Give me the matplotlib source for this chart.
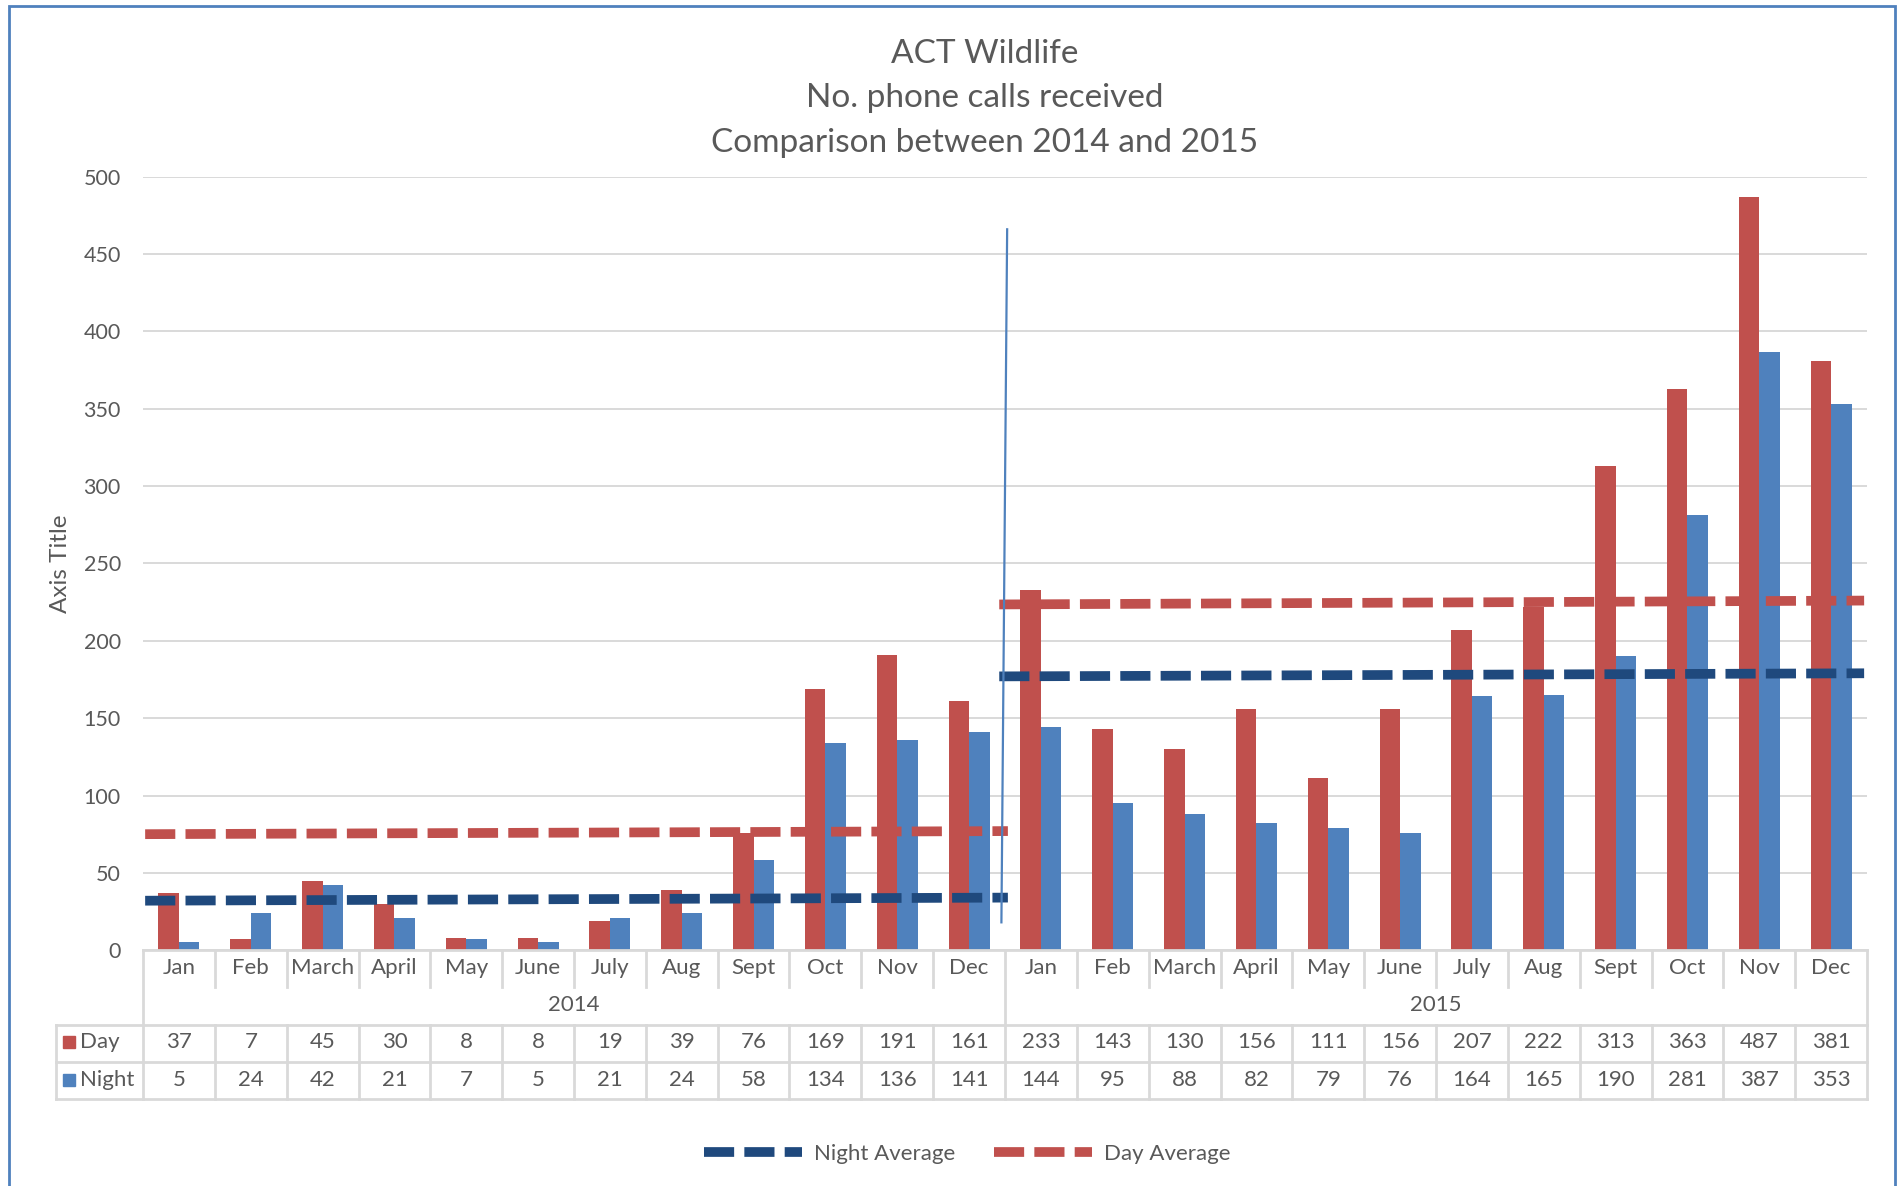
import numpy as np
import matplotlib
matplotlib.use("Agg")
import matplotlib.pyplot as plt
import matplotlib.transforms as mtransforms
from matplotlib.lines import Line2D
from matplotlib.patches import Rectangle

plt.rcParams['font.family'] = ['Lato', 'DejaVu Sans']

# data
months = ["Jan", "Feb", "March", "April", "May", "June",
          "July", "Aug", "Sept", "Oct", "Nov", "Dec"]
years = ["2014", "2015"]
day_calls = [37, 7, 45, 30, 8, 8, 19, 39, 76, 169, 191, 161,
             233, 143, 130, 156, 111, 156, 207, 222, 313, 363, 487, 381]
night_calls = [5, 24, 42, 21, 7, 5, 21, 24, 58, 134, 136, 141,
               144, 95, 88, 82, 79, 76, 164, 165, 190, 281, 387, 353]

# average segments per year (start, end) in category units / values
avg_x = [[-0.47, 11.54], [11.42, 23.46]]
day_avg = [[75, 77], [223.5, 226]]
night_avg = [[32, 34], [177, 179]]

# the hand drawn divider
divider_x = [11.53, 11.45]
divider_y = [466, 18]

DAY = '#C0504D'
NIGHT = '#4F81BD'
NAVY = '#1F497D'
GRID = '#D9D9D9'
TEXT = '#595959'

W, H = 1898, 1186
fig = plt.figure(figsize=(W / 100, H / 100), dpi=100)
ax = fig.add_axes([143 / W, 1 - 950.2 / H, 1724 / W, 773.5 / H])

labels = months * 2
x = np.arange(len(labels))
bw = 0.2857
ax.bar(x - bw / 2, day_calls, bw, color=DAY, zorder=2)
ax.bar(x + bw / 2, night_calls, bw, color=NIGHT, zorder=2)

LW = 7
dash = (3.1, 1.05)
for xs, dy, ny in zip(avg_x, day_avg, night_avg):
    ax.plot(xs, dy, color=DAY, lw=LW, dashes=dash, zorder=3)
    ax.plot(xs, ny, color=NAVY, lw=LW, dashes=dash, zorder=3)

ax.plot(divider_x, divider_y, color=NIGHT, lw=1.6, zorder=4)

ax.set_xlim(-0.5, 23.5)
ax.set_ylim(0, 500)
ax.set_yticks(range(0, 501, 50))
ax.set_xticks([])
ax.grid(axis='y', color=GRID, lw=1.4, zorder=0)
ax.set_axisbelow(True)
for s in ['top', 'right', 'left']:
    ax.spines[s].set_visible(False)
ax.spines['bottom'].set_color(GRID)
ax.spines['bottom'].set_linewidth(2)
ax.tick_params(axis='y', length=0, pad=16, labelsize=15.5, labelcolor=TEXT)

ax.text(-0.0479, 0.5, "Axis Title", transform=ax.transAxes, rotation=90,
        ha='center', va='center', fontsize=17.5, color=TEXT)

# data table under the axis
trans = mtransforms.blended_transform_factory(ax.transData, ax.transAxes)
y_month, y_msep, y_year = -0.023, -0.0476, -0.0708
y_row1, y_day, y_row2, y_night, y_bot = -0.0961, -0.1187, -0.1446, -0.1678, -0.1924
x_left = -1.715
lk = dict(transform=trans, clip_on=False, color=GRID, lw=2)

bounds = np.arange(len(labels) + 1) - 0.5
for i, b in enumerate(bounds):
    top_end = y_row1 if i % 12 == 0 else y_msep
    ax.plot([b, b], [0, top_end], **lk)
    ax.plot([b, b], [y_row1, y_bot], **lk)
ax.plot([x_left, x_left], [y_row1, y_bot], **lk)
for yy in (y_row1, y_row2, y_bot):
    ax.plot([x_left, bounds[-1]], [yy, yy], **lk)

tk = dict(transform=trans, ha='center', va='center', fontsize=16, color=TEXT)
for i, m in enumerate(labels):
    ax.text(i, y_month, m, **tk)
    ax.text(i, y_day, str(day_calls[i]), **tk)
    ax.text(i, y_night, str(night_calls[i]), **tk)
for k, yr in enumerate(years):
    ax.text(5.5 + 12 * k, y_year, yr, **tk)

for yy, name, col in ((y_day, "Day", DAY), (y_night, "Night", NIGHT)):
    ax.plot([-1.53], [yy], marker='s', ms=9, color=col, transform=trans, clip_on=False)
    ax.text(-1.38, yy, name, transform=trans, ha='left', va='center',
            fontsize=16, color=TEXT)

fig.text(0.519, 0.917, "ACT Wildlife\nNo. phone calls received\nComparison between 2014 and 2015",
         ha='center', va='center', fontsize=24, color=TEXT, linespacing=1.6)

handles = [Line2D([], [], color=NAVY, lw=LW, dashes=dash),
           Line2D([], [], color=DAY, lw=LW, dashes=dash)]
fig.legend(handles, ["Night Average", "Day Average"], loc='center',
           bbox_to_anchor=(0.5098, 0.027), ncol=2, frameon=False, fontsize=16,
           handlelength=4.4, handletextpad=0.55, columnspacing=1.75, labelcolor=TEXT)

fig.patches.append(Rectangle((9 / W, -0.05), 1886 / W, 1.05 - 6 / H, transform=fig.transFigure,
                             fill=False, edgecolor='#4F81BD', lw=2))

fig.savefig('out.png', dpi=100)
